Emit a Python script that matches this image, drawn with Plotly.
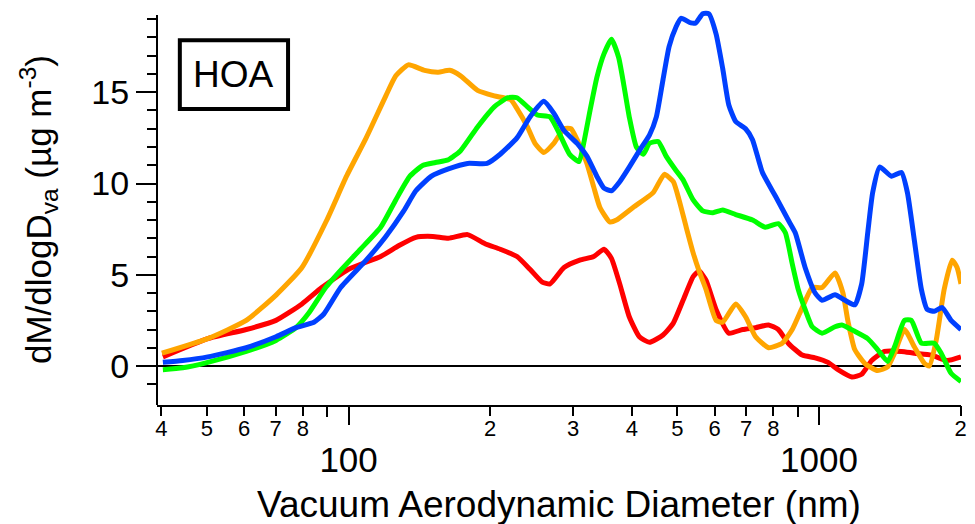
import plotly.graph_objects as go

# Vacuum aerodynamic diameter (nm) and dM/dlogDva (ug m-3) for each HOA size distribution
d_red = [40.3, 50.2, 60.6, 70.1, 79.6, 87.7, 100, 117, 128, 139, 151, 163, 179, 195, 210,
         228, 243, 258, 268, 287, 310, 332, 349, 362, 377, 395, 415, 436, 466, 490, 514,
         540, 556, 575, 604, 643, 688, 733, 781, 819, 860, 921, 981, 1045, 1097, 1174,
         1232, 1294, 1378, 1497, 1594, 1732, 1871, 2003]
v_red = [0.5, 1.5, 2.0, 2.5, 3.4, 4.3, 5.3, 6.0, 6.6, 7.05, 7.1, 7.0, 7.2, 6.7, 6.4,
         6.0, 5.3, 4.6, 4.5, 5.4, 5.8, 6.0, 6.4, 5.9, 4.5, 2.7, 1.6, 1.3, 1.7, 2.35, 3.6,
         4.9, 5.2, 4.7, 3.1, 1.8, 2.0, 2.1, 2.25, 2.0, 1.25, 0.6, 0.45, 0.2, -0.2, -0.6,
         -0.45, 0.3, 0.8, 0.8, 0.7, 0.6, 0.3, 0.5]

d_orange = [40.1, 50.2, 60.6, 70.2, 79.6, 89.9, 99.0, 109, 120, 126, 134, 145, 155, 164,
            173, 188, 204, 221, 228, 240, 249, 260, 273, 287, 297, 306, 321, 332, 342,
            359, 371, 403, 444, 469, 490, 504, 522, 540, 556, 575, 604, 624, 665, 698,
            733, 781, 835, 877, 921, 967, 1015, 1081, 1124, 1151, 1191, 1250, 1332,
            1399, 1447, 1519, 1594, 1674, 1715, 1774, 1845, 1918, 1965, 2003]
v_orange = [0.7, 1.5, 2.5, 3.9, 5.4, 8.0, 10.4, 12.5, 14.8, 15.9, 16.5, 16.2, 16.1, 16.2,
            15.9, 15.1, 14.8, 14.6, 14.1, 13.1, 12.2, 11.7, 12.2, 13.0, 13.0, 12.4, 11.1,
            9.8, 8.7, 7.9, 8.0, 8.7, 9.5, 10.5, 10.1, 9.1, 7.6, 6.2, 5.2, 4.2, 2.5, 2.4,
            3.4, 2.7, 1.6, 1.0, 1.25, 2.0, 3.2, 4.3, 4.3, 5.1, 4.0, 2.5, 0.9, 0.15, -0.25,
            -0.05, 0.7, 2.0, 1.05, 0.15, 0.0, 1.4, 4.2, 5.8, 5.4, 4.5]

d_green = [40.3, 44.4, 50.2, 60.6, 70.1, 77.3, 82.3, 89.4, 96.7, 106, 117, 126, 135, 144,
           153, 163, 173, 188, 204, 218, 228, 240, 252, 268, 281, 295, 309, 316, 326,
           337, 349, 362, 375, 384, 395, 409, 423, 436, 455, 473, 497, 514, 540, 566,
           595, 624, 665, 722, 769, 819, 848, 877, 903, 934, 967, 1015, 1081, 1118,
           1191, 1269, 1332, 1399, 1447, 1519, 1571, 1650, 1757, 1818, 1908, 2003]
v_green = [-0.2, -0.1, 0.2, 0.8, 1.4, 2.1, 2.9, 4.3, 5.3, 6.4, 7.6, 9.1, 10.4, 11.0,
           11.15, 11.3, 11.8, 13.1, 14.2, 14.7, 14.7, 14.2, 13.75, 13.65, 12.7, 11.6,
           11.2, 12.2, 14.0, 15.8, 17.1, 17.9, 16.9, 15.5, 13.65, 12.0, 11.6, 12.2, 12.3,
           11.5, 10.7, 10.2, 9.1, 8.5, 8.4, 8.55, 8.3, 8.0, 7.6, 7.8, 7.3, 5.6, 4.2, 3.1,
           2.15, 1.8, 2.15, 2.25, 1.9, 1.5, 0.9, 0.25, 1.05, 2.5, 2.5, 1.25, 1.25, 0.7,
           -0.4, -0.85]

d_blue = [40.3, 44.4, 50.2, 60.6, 70.1, 77.3, 84.4, 88.6, 96.2, 109, 120, 131, 139, 150,
          163, 179, 197, 210, 228, 243, 260, 273, 287, 306, 321, 337, 349, 362, 377, 395,
          415, 436, 451, 466, 480, 497, 509, 534, 547, 566, 583, 604, 624, 643, 665, 698,
          722, 758, 808, 860, 890, 934, 981, 1015, 1081, 1135, 1191, 1232, 1269, 1300,
          1345, 1426, 1497, 1541, 1594, 1650, 1698, 1757, 1827, 1908, 2003]
v_blue = [0.2, 0.3, 0.5, 1.0, 1.6, 2.1, 2.4, 2.85, 4.3, 5.8, 7.1, 8.5, 9.6, 10.4,
          10.8, 11.1, 11.1, 11.6, 12.5, 13.65, 14.5, 13.85, 12.9, 12.2, 11.5, 10.4, 9.75,
          9.6, 10.1, 10.9, 11.8, 12.65, 13.65, 15.7, 17.5, 18.6, 19.05, 18.8, 18.8, 19.3,
          19.3, 18.2, 16.3, 14.3, 13.4, 13.0, 12.4, 10.6, 9.3, 8.0, 7.3, 5.4, 4.0, 3.6,
          3.9, 3.6, 3.35, 4.5, 7.3, 9.5, 10.9, 10.4, 10.6, 9.5, 6.9, 4.2, 3.1, 3.0, 3.2,
          2.5, 2.0]

# Axis ticks
y_major = [0, 5, 10, 15]
y_minor = list(range(-1, 20))
x_major = [100, 1000]
x_major_text = ["100", "1000"]
x_minor = [40, 50, 60, 70, 80, 200, 300, 400, 500, 600, 700, 800, 2000]
x_minor_text = ["4", "5", "6", "7", "8", "2", "3", "4", "5", "6", "7", "8", "2"]
x_unlabeled = [90, 900]

FONT = "Liberation Sans, Arial, Helvetica, sans-serif"
X_RANGE = [1.5928, 3.3017]
Y_RANGE = [-2.137, 19.616]
Y_AXIS_TOP = 19.23

series = [
    (d_red, v_red, "#FF0000"),
    (d_orange, v_orange, "#FFA500"),
    (d_green, v_green, "#00FF00"),
    (d_blue, v_blue, "#0040FF"),
]

fig = go.Figure()
for d, v, color in series:
    fig.add_trace(go.Scatter(x=d, y=v, mode="lines",
                             line=dict(color=color, width=5, shape="spline", smoothing=0.5),
                             showlegend=False, hoverinfo="skip"))

# companion axis that carries the digit labels of the minor decades
fig.add_trace(go.Scatter(x=[100], y=[None], xaxis="x2", mode="lines",
                         showlegend=False, hoverinfo="skip"))

tick_style = dict(ticks="outside", tickwidth=2, tickcolor="black")

fig.update_layout(
    width=975, height=524,
    margin=dict(l=157, r=8, t=8, b=119),
    paper_bgcolor="white", plot_bgcolor="white",
    font=dict(family=FONT, color="black"),
    xaxis=dict(
        type="log", range=X_RANGE, showgrid=False, zeroline=False,
        showline=True, linecolor="black", linewidth=2,
        tickvals=x_major, ticktext=x_major_text, ticklen=18, **tick_style,
        tickfont=dict(size=35, family=FONT, color="black"),
        ticklabelstandoff=5,
        minor=dict(tickvals=x_unlabeled, ticklen=10, showgrid=False, **tick_style),
    ),
    xaxis2=dict(
        type="log", range=X_RANGE, overlaying="x", anchor="y", side="bottom",
        showgrid=False, zeroline=False, showline=False,
        tickvals=x_minor, ticktext=x_minor_text, ticklen=10, **tick_style,
        tickfont=dict(size=22, family=FONT, color="black"),
        ticklabelstandoff=-6,
    ),
    yaxis=dict(
        range=Y_RANGE, showgrid=False, showline=False,
        zeroline=True, zerolinecolor="black", zerolinewidth=2,
        tickvals=y_major, ticklen=20, **tick_style,
        tickfont=dict(size=34, family=FONT, color="black"),
        minor=dict(tickvals=y_minor, ticklen=9, showgrid=False, **tick_style),
    ),
    shapes=[
        # left axis line stops short of the top of the plotting area
        dict(type="line", xref="paper", yref="y", x0=0, x1=0,
             y0=Y_RANGE[0], y1=Y_AXIS_TOP, line=dict(color="black", width=2)),
        # frame around the factor name
        dict(type="rect", xref="paper", yref="paper",
             x0=0.0284, x1=0.163, y0=0.7456, y1=0.919,
             line=dict(color="black", width=4), fillcolor="white"),
    ],
    annotations=[
        dict(text="HOA", xref="paper", yref="paper", x=0.0957, y=0.8325,
             xanchor="center", yanchor="middle", showarrow=False,
             font=dict(size=37, family=FONT, color="black")),
        dict(text="Vacuum Aerodynamic Diameter (nm)", xref="paper", yref="paper",
             x=0.5, y=-0.25, xanchor="center", yanchor="middle", showarrow=False,
             font=dict(size=37, family=FONT, color="black")),
        dict(text="dM/dlogD<sub>va</sub> (µg m<sup>-3</sup>)", xref="paper", yref="paper",
             x=-0.148, y=0.491, xanchor="center", yanchor="middle", textangle=-90,
             showarrow=False, font=dict(size=35, family=FONT, color="black")),
    ],
)

fig.write_html("out.html")
